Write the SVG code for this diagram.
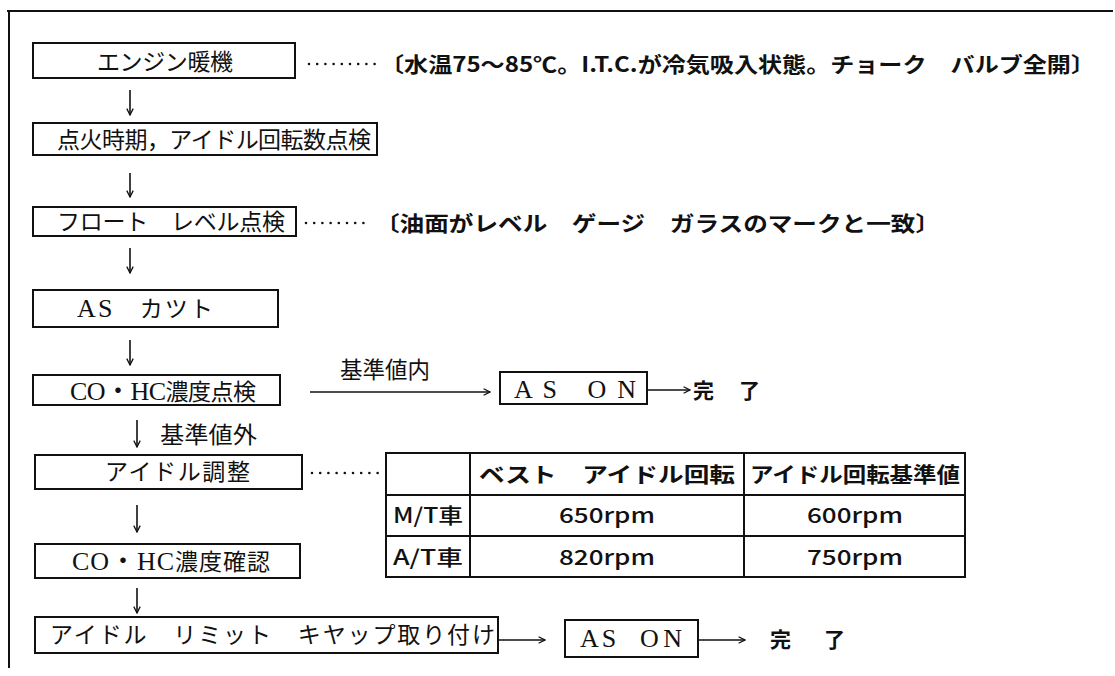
<svg xmlns="http://www.w3.org/2000/svg" width="1115" height="676" viewBox="0 0 1115 676">
<style>
.bx{fill:#fff;stroke:#111;stroke-width:2}
.frame{stroke:#111;stroke-width:2;fill:none}
.mt{font-family:"Liberation Serif","Noto Sans CJK JP",serif;font-size:23px;fill:#111}
.lat{font-size:26px}
.gb{font-family:"Noto Sans CJK JP","Noto Sans",sans-serif;font-size:21px;font-weight:bold;fill:#111}
.tb{font-family:"Noto Sans CJK JP","Noto Sans",sans-serif;font-size:21px;font-weight:500;fill:#111}
.ln{stroke:#111;stroke-width:1.6;fill:none}
.tl{stroke:#111;stroke-width:2;fill:none}
.dots{stroke:#111;stroke-width:2.6;stroke-linecap:round;stroke-dasharray:0 8.2;fill:none}
</style>
<defs>
<marker id="ah" viewBox="0 0 10 10" refX="9" refY="5" markerWidth="8" markerHeight="8" markerUnits="userSpaceOnUse" orient="auto">
<path d="M1,1 L9,5 L1,9" fill="none" stroke="#111" stroke-width="1.6"/>
</marker>
</defs>
<rect width="1115" height="676" fill="#fff"/>
<g id="frame">
<line class="frame" x1="7" y1="11" x2="1113" y2="11"/>
<line class="frame" x1="9" y1="11" x2="9" y2="668"/>
</g>
<g id="connectors">
<line class="ln" x1="130" y1="90" x2="130" y2="115" marker-end="url(#ah)"/>
<line class="ln" x1="130" y1="173" x2="130" y2="197" marker-end="url(#ah)"/>
<line class="ln" x1="130" y1="248" x2="130" y2="273" marker-end="url(#ah)"/>
<line class="ln" x1="130" y1="340" x2="130" y2="365" marker-end="url(#ah)"/>
<line class="ln" x1="310" y1="392" x2="490" y2="392" marker-end="url(#ah)"/>
<line class="ln" x1="647" y1="390" x2="690" y2="390" marker-end="url(#ah)"/>
<line class="ln" x1="137" y1="420" x2="137" y2="447" marker-end="url(#ah)"/>
<line class="ln" x1="137" y1="505" x2="137" y2="532" marker-end="url(#ah)"/>
<line class="ln" x1="137" y1="588" x2="137" y2="613" marker-end="url(#ah)"/>
<line class="ln" x1="498" y1="640" x2="545" y2="640" marker-end="url(#ah)"/>
<line class="ln" x1="698" y1="640" x2="745" y2="640" marker-end="url(#ah)"/>
<text class="mt" x="340" y="378" textLength="90" lengthAdjust="spacingAndGlyphs">基準値内</text>
<text class="mt" x="160" y="443" textLength="97" lengthAdjust="spacingAndGlyphs">基準値外</text>
</g>
<g id="n1">
<rect class="bx" x="33" y="43" width="262" height="35"/>
<text class="mt" x="97" y="70" textLength="136" lengthAdjust="spacing">エンジン暖機</text>
<line class="dots" x1="309" y1="64" x2="378" y2="64"/>
<text class="gb" x="380" y="72" textLength="715" lengthAdjust="spacingAndGlyphs">〔水温75〜85℃。I.T.C.が冷気吸入状態。チョーク　バルブ全開〕</text>
</g>
<g id="n2">
<rect class="bx" x="33" y="123" width="344" height="32"/>
<text class="mt" x="57" y="148" textLength="314" lengthAdjust="spacing">点火時期，アイドル回転数点検</text>
</g>
<g id="n3">
<rect class="bx" x="33" y="207" width="263" height="29"/>
<text class="mt" x="57" y="230" textLength="228" lengthAdjust="spacing">フロート　レベル点検</text>
<line class="dots" x1="306" y1="223" x2="370" y2="223"/>
<text class="gb" x="375" y="231" textLength="565" lengthAdjust="spacingAndGlyphs">〔油面がレベル　ゲージ　ガラスのマークと一致〕</text>
</g>
<g id="n4">
<rect class="bx" x="33" y="290" width="245" height="37"/>
<text class="mt" x="77" y="317" textLength="136" lengthAdjust="spacing"><tspan class="lat">AS</tspan>　カツト</text>
</g>
<g id="n5">
<rect class="bx" x="33" y="375" width="247" height="30"/>
<text class="mt" x="70" y="400" textLength="186" lengthAdjust="spacing"><tspan class="lat">CO・HC</tspan>濃度点検</text>
</g>
<g id="n6">
<rect class="bx" x="500" y="372" width="147" height="32"/>
<text class="mt lat" x="514" y="398" textLength="122" lengthAdjust="spacing">A S　O N</text>
</g>
<g id="n7">
<text class="gb" x="693" y="398" textLength="67" lengthAdjust="spacing">完　了</text>
</g>
<g id="n8">
<rect class="bx" x="35" y="455" width="267" height="34"/>
<text class="mt" x="105" y="480" textLength="145" lengthAdjust="spacing">アイドル調整</text>
<line class="dots" x1="312" y1="473" x2="380" y2="473"/>
</g>
<g id="table">
<rect class="tl" x="386" y="453" width="579" height="124"/>
<line class="tl" x1="386" y1="495" x2="965" y2="495"/>
<line class="tl" x1="386" y1="536" x2="965" y2="536"/>
<line class="tl" x1="470" y1="453" x2="470" y2="577"/>
<line class="tl" x1="744" y1="453" x2="744" y2="577"/>
<text class="gb" x="607" y="482" text-anchor="middle" textLength="256" lengthAdjust="spacingAndGlyphs">ベスト　アイドル回転</text>
<text class="gb" x="855" y="482" text-anchor="middle" textLength="210" lengthAdjust="spacingAndGlyphs">アイドル回転基準値</text>
<text class="tb" x="428" y="523" text-anchor="middle" textLength="70" lengthAdjust="spacingAndGlyphs">M/T車</text>
<text class="tb" x="428" y="565" text-anchor="middle" textLength="70" lengthAdjust="spacingAndGlyphs">A/T車</text>
<text class="tb" x="607" y="523" text-anchor="middle" textLength="96" lengthAdjust="spacingAndGlyphs">650rpm</text>
<text class="tb" x="855" y="523" text-anchor="middle" textLength="96" lengthAdjust="spacingAndGlyphs">600rpm</text>
<text class="tb" x="607" y="565" text-anchor="middle" textLength="96" lengthAdjust="spacingAndGlyphs">820rpm</text>
<text class="tb" x="855" y="565" text-anchor="middle" textLength="96" lengthAdjust="spacingAndGlyphs">750rpm</text>
</g>
<g id="n9">
<rect class="bx" x="35" y="544" width="265" height="34"/>
<text class="mt" x="72" y="570" textLength="198" lengthAdjust="spacing"><tspan class="lat">CO・HC</tspan>濃度確認</text>
</g>
<g id="n10">
<rect class="bx" x="35" y="617" width="463" height="36"/>
<text class="mt" x="50" y="643" textLength="445" lengthAdjust="spacing">アイドル　リミット　キヤップ取り付け</text>
</g>
<g id="n11">
<rect class="bx" x="565" y="620" width="133" height="37"/>
<text class="mt lat" x="580" y="647" textLength="102" lengthAdjust="spacing">A S　O N</text>
</g>
<g id="n12">
<text class="gb" x="770" y="647" textLength="75" lengthAdjust="spacing">完　了</text>
</g>
</svg>
